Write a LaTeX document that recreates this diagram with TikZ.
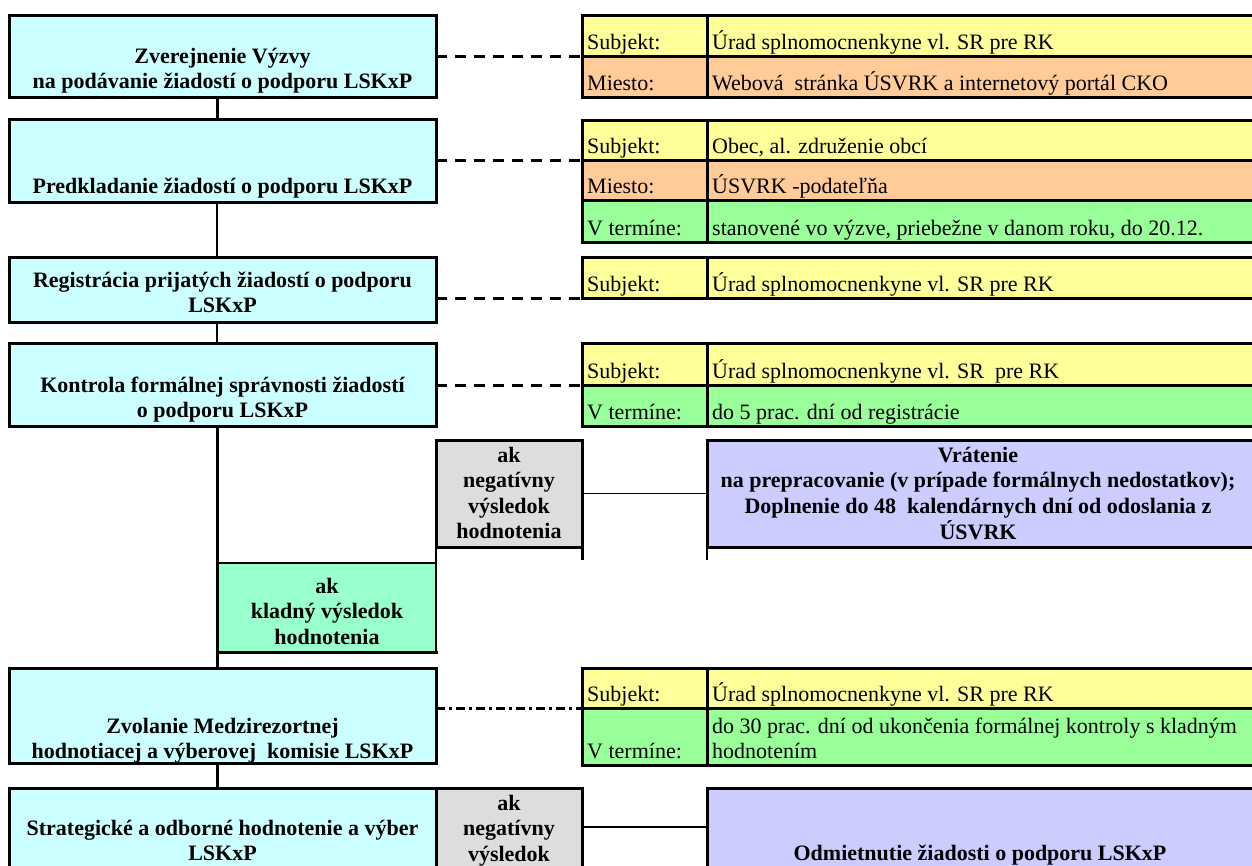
\documentclass[tikz,border=0pt]{standalone}
\usepackage{fontspec}
\setmainfont{Liberation Serif}
\usetikzlibrary{calc}
\definecolor{cyanbox}{HTML}{CCFFFF}
\definecolor{yel}{HTML}{FFFF99}
\definecolor{ora}{HTML}{FFCC99}
\definecolor{grn}{HTML}{99FF99}
\definecolor{gry}{HTML}{DDDDDD}
\definecolor{mint}{HTML}{99FFCC}
\definecolor{lav}{HTML}{CCCCFF}
\newcommand\mlines[2][c]{\begin{tabular}[t]{@{}#1@{}}#2\end{tabular}}
\begin{document}
\begin{tikzpicture}[x=1pt,y=-1pt,
  cell/.style={draw, line width=3pt, anchor=north west, inner sep=0pt, outer sep=0pt},
  mainbox/.style={cell, fill=cyanbox, minimum width=427pt},
  lab/.style={cell, minimum width=125pt},
  val/.style={cell, minimum width=549pt},
  txt/.style={inner sep=0pt, font=\fontsize{22}{25.5}\selectfont},
  btxt/.style={inner sep=0pt, font=\fontsize{22}{25.5}\selectfont\bfseries, anchor=base},
  ltxt/.style={txt, anchor=base west},
  dashln/.style={line width=3pt, dash pattern=on 11pt off 8pt},
  dashdotln/.style={line width=3pt, dash pattern=on 9pt off 4pt on 3pt off 4pt},
  thickln/.style={line width=3pt},
  thinln/.style={line width=1.5pt}]
\useasboundingbox (0,0) rectangle (1252,865);
\clip (0,0) rectangle (1252,865);
\coordinate (sp) at (217,0);

% ---------------- left column boxes
\node[mainbox, minimum height=82pt] (b1) at (9,15) {};
\node[mainbox, minimum height=83pt] (b2) at (9,119) {};
\node[mainbox, minimum height=65pt] (b3) at (9,257) {};
\node[mainbox, minimum height=83pt] (b4) at (9,343) {};
\node[mainbox, minimum height=95pt] (b5) at (9,668) {};
\node[mainbox, minimum height=112pt] (b6) at (9,788) {};

% spine connectors
\draw[thickln] (b1.south -| sp) -- (b2.north -| sp);
\draw[thinln] (b2.south -| sp) -- (b3.north -| sp);
\draw[thinln] (b3.south -| sp) -- (b4.north -| sp);
\draw[thickln] (b4.south -| sp) -- (b5.north -| sp);
\draw[thickln] (b5.south -| sp) -- (b6.north -| sp);

% positive result box
\node[fill=mint, anchor=north west, inner sep=0pt, outer sep=0pt, minimum width=219pt, minimum height=89pt] (kl) at (217,563) {};
\draw[thinln] (kl.north west) -- (kl.north east) -- (kl.south east);
\draw[thickln] ([xshift=-1.5pt]kl.south west) -- ([xshift=1.5pt]kl.south east);
\draw[thickln] (b4.south -| sp) -- (b5.north -| sp);

% negative result boxes
\node[cell, fill=gry, minimum width=146pt, minimum height=107pt] (g1) at (436,440) {};
\node[cell, fill=lav, minimum width=549pt, minimum height=107pt] (v1) at (707,440) {};
\draw[thinln] (g1.east) -- (v1.west);
\draw[thinln] (g1.south west) -- (kl.north east);
\draw[thickln] (g1.south east) -- ++(0,13);
\draw[thinln] (v1.south west) -- ++(0,13);

\node[cell, fill=gry, minimum width=146pt, minimum height=112pt] (g2) at (436,788) {};
\node[cell, fill=lav, minimum width=549pt, minimum height=112pt] (v2) at (707,788) {};
\coordinate (c2) at ($(g2.north east)+(0,39)$);
\draw[thinln] (c2) -- (c2 -| v2.west);

% ---------------- tables
% T1
\node[lab, fill=yel, minimum height=41pt] (t1a) at (582,15) {};
\node[val, fill=yel, minimum height=41pt] (t1av) at (707,15) {};
\node[lab, fill=ora, minimum height=41pt] (t1b) at (582,56) {};
\node[val, fill=ora, minimum height=41pt] (t1bv) at (707,56) {};
% T2
\node[lab, fill=yel, minimum height=40pt] (t2a) at (582,120) {};
\node[val, fill=yel, minimum height=40pt] (t2av) at (707,120) {};
\node[lab, fill=ora, minimum height=40pt] (t2b) at (582,160) {};
\node[val, fill=ora, minimum height=40pt] (t2bv) at (707,160) {};
\node[lab, fill=grn, minimum height=42pt] (t2c) at (582,200) {};
\node[val, fill=grn, minimum height=42pt] (t2cv) at (707,200) {};
% T3
\node[lab, fill=yel, minimum height=41pt] (t3a) at (582,257) {};
\node[val, fill=yel, minimum height=41pt] (t3av) at (707,257) {};
% T4
\node[lab, fill=yel, minimum height=42pt] (t4a) at (582,343) {};
\node[val, fill=yel, minimum height=42pt] (t4av) at (707,343) {};
\node[lab, fill=grn, minimum height=41pt] (t4b) at (582,385) {};
\node[val, fill=grn, minimum height=41pt] (t4bv) at (707,385) {};
% T5
\node[lab, fill=yel, minimum height=40pt] (t5a) at (582,668) {};
\node[val, fill=yel, minimum height=40pt] (t5av) at (707,668) {};
\node[lab, fill=grn, minimum height=57pt] (t5b) at (582,708) {};
\node[val, fill=grn, minimum height=57pt] (t5bv) at (707,708) {};

% dashed links
\draw[dashln] (b1.east |- t1a.south) -- (t1a.south west);
\draw[dashln] (b2.east |- t2a.south) -- (t2a.south west);
\draw[dashln] (b3.east |- t3a.south) -- (t3a.south west);
\draw[dashln] (b4.east |- t4a.south) -- (t4a.south west);
\draw[dashdotln] (b5.east |- t5a.south) -- (t5a.south west);

% ---------------- texts in left boxes
\node[btxt] (b1t) at (222.5,63) {\mlines{Zverejnenie Výzvy\\na podávanie žiadostí o podporu LSKxP}};
\node[btxt] (b2t) at (222.5,193) {Predkladanie žiadostí o podporu LSKxP};
\node[btxt] (b3t) at (222.5,287) {\mlines{Registrácia prijatých žiadostí o podporu\\LSKxP}};
\node[btxt] (b4t) at (222.5,392) {\mlines{Kontrola formálnej správnosti žiadostí\\o podporu LSKxP}};
\node[btxt] (b5t) at (222.5,733) {\mlines{Zvolanie Medzirezortnej\\hodnotiacej a výberovej\ \ komisie LSKxP}};
\node[btxt] (b6t) at (222.5,835) {\mlines{Strategické a odborné hodnotenie a výber\\LSKxP}};

\node[btxt] (g1t) at (509,462) {\mlines{ak\\negatívny\\výsledok\\hodnotenia}};
\node[btxt] (v1t) at (978,462) {\mlines{Vrátenie\\na prepracovanie (v prípade formálnych nedostatkov);\\Doplnenie do 48\ \ kalendárnych dní od odoslania z\\ÚSVRK}};
\node[btxt] (klt) at (327,593) {\mlines{ak\\kladný výsledok\\hodnotenia}};
\node[btxt] (g2t) at (509,810) {\mlines{ak\\negatívny\\výsledok\\hodnotenia}};
\node[btxt] (v2t) at (980,860) {Odmietnutie žiadosti o podporu LSKxP};

% ---------------- table texts
\node[ltxt] (t1al) at (587,49) {Subjekt:};
\node[ltxt] (t1avl) at (712,49) {Úrad splnomocnenkyne vl. SR pre RK};
\node[ltxt] (t1bl) at (587,90) {Miesto:};
\node[ltxt] (t1bvl) at (712,90) {Webová\ \ stránka ÚSVRK a internetový portál CKO};

\node[ltxt] (t2al) at (587,153) {Subjekt:};
\node[ltxt] (t2avl) at (712,153) {Obec, al. združenie obcí};
\node[ltxt] (t2bl) at (587,193) {Miesto:};
\node[ltxt] (t2bvl) at (712,193) {ÚSVRK -podateľňa};
\node[ltxt] (t2cl) at (587,235) {V termíne:};
\node[ltxt] (t2cvl) at (712,235) {stanovené vo výzve, priebežne v danom roku, do 20.12.};

\node[ltxt] (t3al) at (587,291) {Subjekt:};
\node[ltxt] (t3avl) at (712,291) {Úrad splnomocnenkyne vl. SR pre RK};

\node[ltxt] (t4al) at (587,378) {Subjekt:};
\node[ltxt] (t4avl) at (712,378) {Úrad splnomocnenkyne vl. SR\ \ pre RK};
\node[ltxt] (t4bl) at (587,419) {V termíne:};
\node[ltxt] (t4bvl) at (712,419) {do 5 prac. dní od registrácie};

\node[ltxt] (t5al) at (587,701) {Subjekt:};
\node[ltxt] (t5avl) at (712,701) {Úrad splnomocnenkyne vl. SR pre RK};
\node[ltxt] (t5bl) at (587,758) {V termíne:};
\node[ltxt] (t5bvl) at (712,733) {\mlines[l]{do 30 prac. dní od ukončenia formálnej kontroly s kladným\\hodnotením}};
\end{tikzpicture}
\end{document}
